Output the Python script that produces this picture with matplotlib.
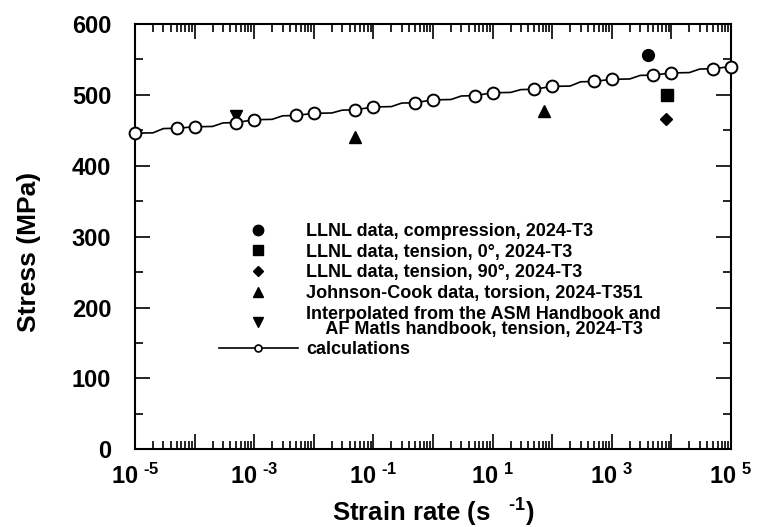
import matplotlib.pyplot as plt
import numpy as np
from matplotlib.lines import Line2D
from matplotlib.ticker import FixedLocator, LogLocator, MultipleLocator, NullFormatter

plt.rcParams['font.family'] = 'Liberation Sans'
plt.rcParams['font.weight'] = 'bold'
plt.rcParams['mathtext.fontset'] = 'custom'
plt.rcParams['mathtext.rm'] = 'Liberation Sans:bold'
plt.rcParams['mathtext.bf'] = 'Liberation Sans:bold'

# calculated flow stress (MPa) vs strain rate (1/s)
calc_rate = [1e-5, 5e-5, 1e-4, 5e-4, 1e-3, 5e-3, 1e-2, 5e-2, 1e-1, 5e-1, 1e0,
             5e0, 1e1, 5e1, 1e2, 5e2, 1e3, 5e3, 1e4, 5e4, 1e5]
calc_stress = [446, 453, 455, 461, 465, 471, 474, 479, 483, 489, 493,
               499, 503, 508, 512, 519, 522, 528, 531, 537, 540]

# full calculation curve (1, 2, 3, 5 per decade)
curve_rate = [1e-5, 2e-5, 3e-5, 5e-5, 1e-4, 2e-4, 3e-4, 5e-4, 1e-3, 2e-3, 3e-3, 5e-3,
              1e-2, 2e-2, 3e-2, 5e-2, 1e-1, 2e-1, 3e-1, 5e-1, 1e0, 2e0, 3e0, 5e0,
              1e1, 2e1, 3e1, 5e1, 1e2, 2e2, 3e2, 5e2, 1e3, 2e3, 3e3, 5e3,
              1e4, 2e4, 3e4, 5e4, 1e5]
curve_stress = [446, 446.5, 452.5, 453, 455, 455.5, 460.5, 461, 465, 465.5, 470.5, 471,
                474, 474.5, 478.5, 479, 483, 483.5, 488.5, 489, 493, 493.5, 498.5, 499,
                503, 503.5, 507.5, 508, 512, 512.5, 518.5, 519, 522, 522.5, 527.5, 528,
                531, 531.5, 536.5, 537, 540]

# experimental points
llnl_comp_rate, llnl_comp_stress = [4000], [557]
llnl_t0_rate, llnl_t0_stress = [8500], [500]
llnl_t90_rate, llnl_t90_stress = [8000], [466]
jc_rate, jc_stress = [0.05, 72], [441, 478]
asm_rate, asm_stress = [5e-4], [470]

decades = list(range(-5, 6))
xtick_labels = [r'$\mathregular{10^{\ \text{-}%d}}$' % -k if k < 0 else
                r'$\mathregular{10^{\ %d}}$' % k for k in decades]

fig = plt.figure(figsize=(7.6, 5.27), dpi=100)
ax = fig.add_axes([0.1776, 0.1474, 0.7842, 0.807])

ax.plot(curve_rate, curve_stress, color='black', lw=1.2, zorder=2)
ax.plot(calc_rate, calc_stress, 'o', ms=8.5, mfc='white', mec='black', mew=1.4, zorder=3,
        clip_on=False)
ax.plot(llnl_comp_rate, llnl_comp_stress, 'o', ms=8.5, color='black')
ax.plot(llnl_t0_rate, llnl_t0_stress, 's', ms=8.5, color='black')
ax.plot(llnl_t90_rate, llnl_t90_stress, 'D', ms=6, color='black')
ax.plot(jc_rate, jc_stress, '^', ms=8, color='black')
ax.plot(asm_rate, asm_stress, 'v', ms=8, color='black')

ax.set_xscale('log')
ax.set_xlim(1e-5, 1e5)
ax.set_ylim(0, 600)

# label only the odd decades
ax.xaxis.set_major_locator(FixedLocator([10.0 ** k for k in decades]))
ax.xaxis.set_minor_locator(LogLocator(base=10, subs=np.arange(2, 10), numticks=30))
ax.xaxis.set_minor_formatter(NullFormatter())
ax.set_xticks([10.0 ** k for k in decades])
ax.set_xticklabels([lab if k % 2 else '' for k, lab in zip(decades, xtick_labels)])
ax.yaxis.set_major_locator(MultipleLocator(100))
ax.yaxis.set_minor_locator(MultipleLocator(50))

ax.tick_params(which='both', direction='in', top=True, right=True, width=1.2)
ax.tick_params(which='major', length=11)
ax.tick_params(which='minor', length=6)
ax.tick_params(axis='x', labelsize=17, pad=10)
ax.tick_params(axis='y', labelsize=17, pad=17)
for s in ax.spines.values():
    s.set_linewidth(1.5)

ax.set_xlabel(r'Strain rate (s$^{\ \ \ \text{-}1}$)', fontsize=18.5, fontweight='bold',
              labelpad=5)
ax.set_ylabel('Stress (MPa)', fontsize=19, fontweight='bold', labelpad=22, y=0.465)

handles = [
    Line2D([], [], ls='none', marker='o', ms=7.5, color='black'),
    Line2D([], [], ls='none', marker='s', ms=7.5, color='black'),
    Line2D([], [], ls='none', marker='D', ms=5.5, color='black'),
    Line2D([], [], ls='none', marker='^', ms=7, color='black'),
    Line2D([], [], ls='none', marker='v', ms=7, color='black'),
    Line2D([], [], color='black', lw=1.2, marker='o', ms=5, mfc='white', mec='black', mew=1.2),
]
labels = [
    'LLNL data, compression, 2024-T3',
    'LLNL data, tension, 0\u00b0, 2024-T3',
    'LLNL data, tension, 90\u00b0, 2024-T3',
    'Johnson-Cook data, torsion, 2024-T351',
    'Interpolated from the ASM Handbook and\n    AF Matls handbook, tension, 2024-T3',
    'calculations',
]
leg = ax.legend(handles, labels, loc='upper left', bbox_to_anchor=(0.125, 0.553),
                frameon=False,
                prop={'family': 'Liberation Sans', 'weight': 'bold', 'size': 13},
                handlelength=4.4, handletextpad=0.45, labelspacing=0.2, borderpad=0)
for t in leg.get_texts():
    t.set_linespacing(0.85)

fig.savefig('out.png', dpi=100)
